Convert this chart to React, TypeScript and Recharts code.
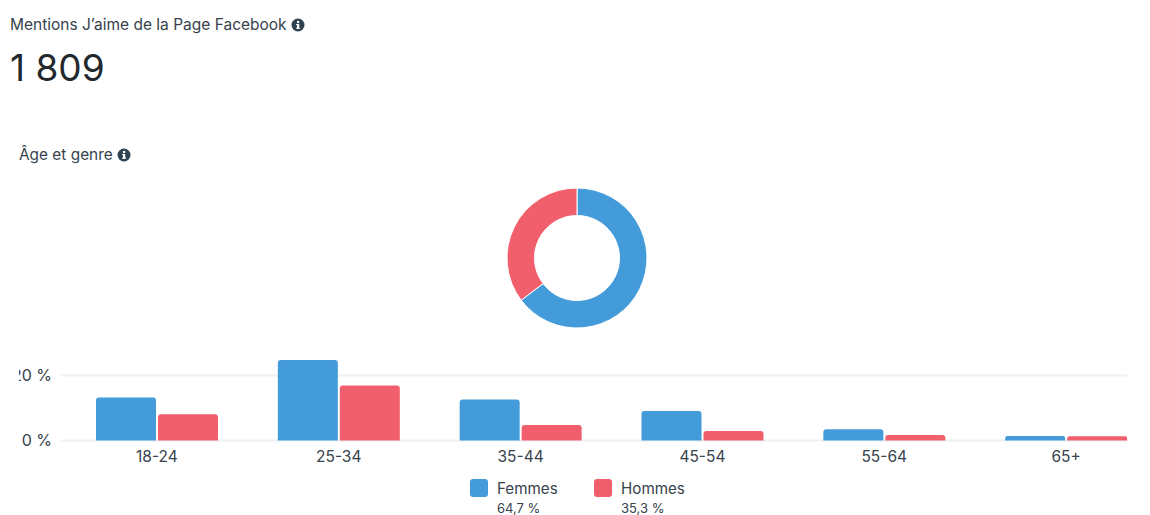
import React from "react";
import { BarChart, Bar, XAxis, YAxis, CartesianGrid, PieChart, Pie, Cell } from "recharts";

const TITLE = "Mentions J’aime de la Page Facebook";
const TOTAL = "1 809";
const SUBTITLE = "Âge et genre";
const ageGroups = ["18-24", "25-34", "35-44", "45-54", "55-64", "65+"];
const femmes = [13.2, 24.8, 12.6, 9.1, 3.5, 1.4];
const hommes = [8.1, 16.9, 4.8, 2.9, 1.7, 1.3];
const genderNames = ["Femmes", "Hommes"];
const genderShares = [64.7, 35.3];
const genderLabels = ["64,7 %", "35,3 %"];
const yTicks = [0, 20];

const BLUE = "#439cd9";
const RED = "#f25f6c";
const TEXT = "#36424c";
const FONT = "Inter, 'Noto Sans', sans-serif";

const barData = ageGroups.map((age, i) => ({ age, femmes: femmes[i], hommes: hommes[i] }));
const pieData = genderNames.map((name, i) => ({ name, value: genderShares[i] }));

const Info = ({ x, y }: { x: number; y: number }) => (
  <svg width={14} height={14} viewBox="0 0 14 14" style={{ position: "absolute", left: x, top: y }}>
    <circle cx={7} cy={7} r={6.5} fill="#2f4252" />
    <rect x={6} y={6} width={2.2} height={4.6} fill="#fff" />
    <rect x={5.1} y={9.6} width={4} height={1.1} fill="#fff" />
    <rect x={5.1} y={6} width={2} height={1.1} fill="#fff" />
    <circle cx={7.1} cy={4} r={1.25} fill="#fff" />
  </svg>
);

const label = (x: number, y: number, size: number, text: string, extra: React.CSSProperties = {}) => (
  <div
    style={{
      position: "absolute",
      left: x,
      top: y,
      fontSize: size,
      lineHeight: "20px",
      color: TEXT,
      whiteSpace: "nowrap",
      ...extra,
    }}
  >
    {text}
  </div>
);

export default function App() {
  return (
    <div
      style={{
        position: "absolute",
        left: 0,
        top: 0,
        width: 1150,
        height: 515,
        overflow: "hidden",
        background: "#fff",
        fontFamily: FONT,
      }}
    >
      {label(10, 15, 15.5, TITLE)}
      <Info x={291} y={18} />
      {label(10, 58, 37, TOTAL, { color: "#23282d", fontWeight: 400 })}
      {label(19, 145, 15.4, SUBTITLE)}
      <Info x={117} y={148} />

      <div style={{ position: "absolute", left: 477, top: 158 }}>
        <PieChart width={200} height={200} margin={{ top: 0, right: 0, bottom: 0, left: 0 }}>
          <Pie
            data={pieData}
            dataKey="value"
            cx={100}
            cy={100}
            outerRadius={70}
            innerRadius={42.5}
            startAngle={90}
            endAngle={-270}
            stroke="#fff"
            strokeWidth={1}
            isAnimationActive={false}
          >
            <Cell fill={BLUE} />
            <Cell fill={RED} />
          </Pie>
        </PieChart>
      </div>

      <div style={{ position: "absolute", left: 19, top: 340, width: 1131, height: 135, overflow: "hidden" }}>
        <BarChart
          width={1131}
          height={135}
          data={barData}
          barSize={60}
          barGap={2}
          margin={{ top: 3, right: 23, bottom: 0, left: 0 }}
        >
          <CartesianGrid vertical={false} stroke="#eef0f2" strokeWidth={2} horizontalValues={yTicks} />
          <XAxis
            dataKey="age"
            height={34.5}
            padding={{ left: 5, right: -30 }}
            axisLine={false}
            tickLine={false}
            tickMargin={4}
            tick={{ fontSize: 15.5, fill: TEXT, fontFamily: FONT }}
          />
          <YAxis
            width={42}
            domain={[0, 30]}
            ticks={yTicks}
            axisLine={false}
            tickLine={false}
            tickMargin={3}
            tickFormatter={(v: number) => `${v} %`}
            tick={{ fontSize: 16, fill: TEXT, fontFamily: FONT }}
          />
          <Bar dataKey="femmes" fill={BLUE} radius={[3, 3, 0, 0]} isAnimationActive={false} />
          <Bar dataKey="hommes" fill={RED} radius={[3, 3, 0, 0]} isAnimationActive={false} />
        </BarChart>
      </div>

      {genderNames.map((name, i) => {
        const x = i === 0 ? 470 : 594;
        return (
          <React.Fragment key={name}>
            <div
              style={{
                position: "absolute",
                left: x,
                top: 479,
                width: 18,
                height: 18,
                borderRadius: 3,
                background: i === 0 ? BLUE : RED,
              }}
            />
            {label(x + 27, 479, 15.2, name)}
            {label(x + 27, 498, 13, genderLabels[i])}
          </React.Fragment>
        );
      })}
    </div>
  );
}
